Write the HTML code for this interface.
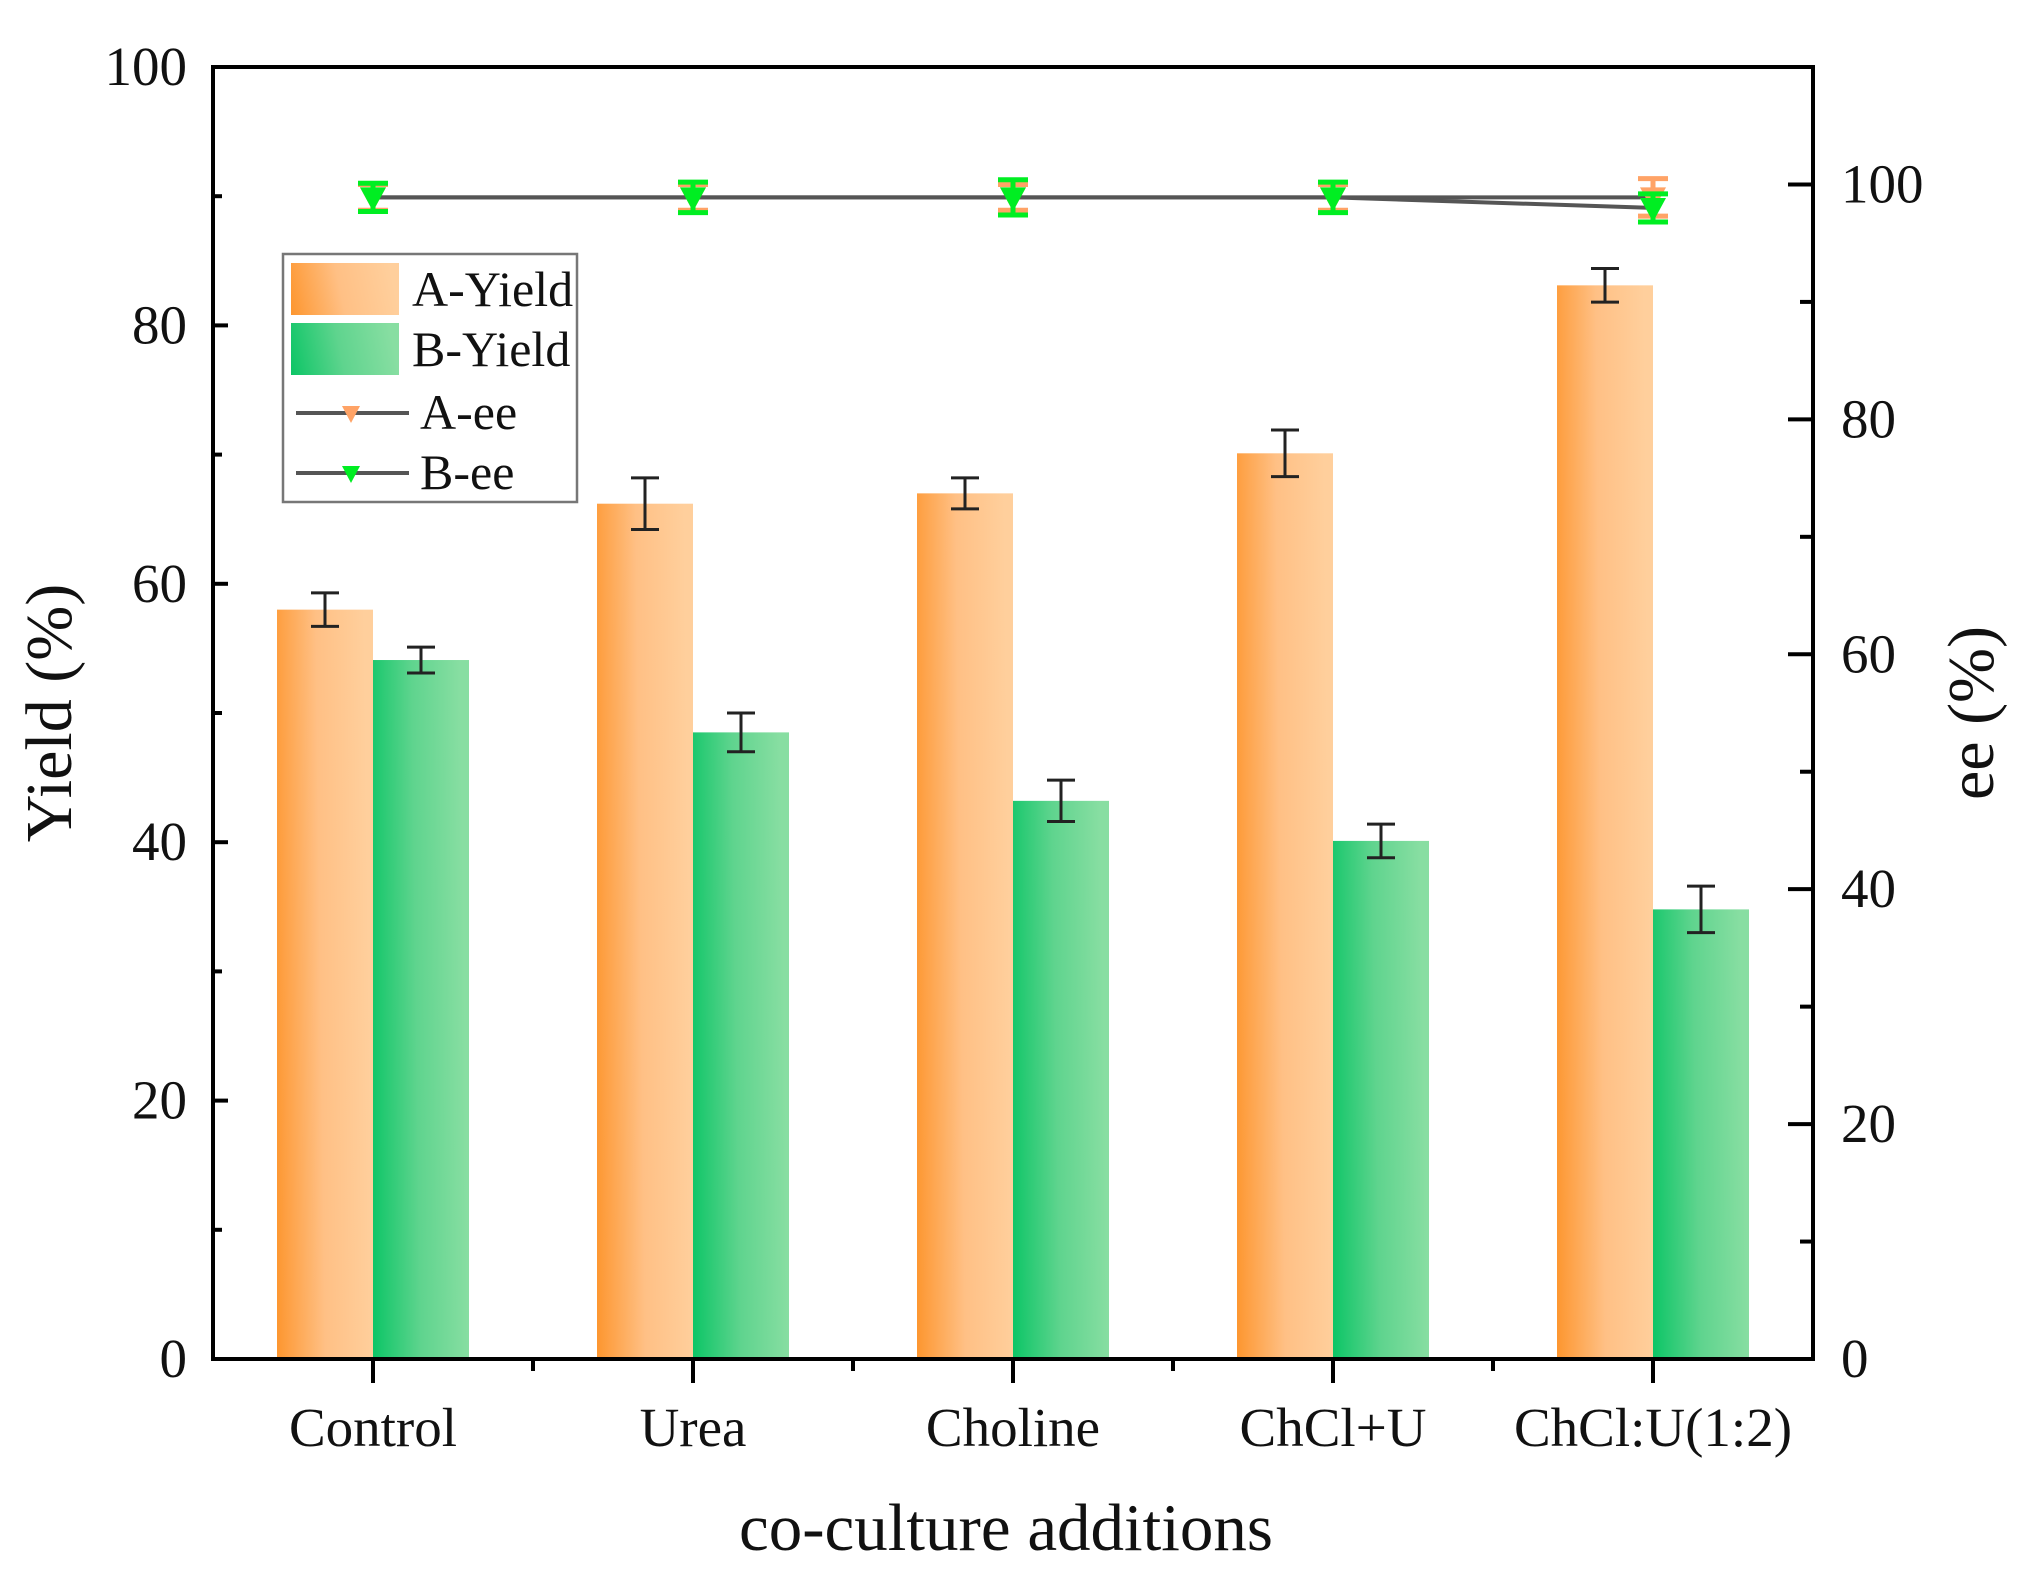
<!DOCTYPE html>
<html><head><meta charset="utf-8"><style>
html,body{margin:0;padding:0;background:#fff}
svg text{font-family:"Liberation Serif",serif;fill:#111}
</style></head><body>
<svg id="chart" width="2026" height="1571" viewBox="0 0 2026 1571" xmlns="http://www.w3.org/2000/svg">
<defs>
<linearGradient id="gA" x1="0" y1="1" x2="1" y2="0.9"><stop offset="0" stop-color="#fd962f"/><stop offset="0.5" stop-color="#ffc085"/><stop offset="1" stop-color="#ffcf9c"/></linearGradient>
<linearGradient id="gB" x1="0" y1="1" x2="1" y2="0.9"><stop offset="0" stop-color="#0cc566"/><stop offset="0.5" stop-color="#5fd48e"/><stop offset="1" stop-color="#88dea2"/></linearGradient>
</defs>
<g id="bars"></g>
<g id="lines"></g>
<g id="axes"></g>
<text x="56" y="713" font-size="66" text-anchor="middle" transform="rotate(-90 56 713)" dominant-baseline="middle">Yield (%)</text>
<text x="1978" y="713" font-size="66" text-anchor="middle" transform="rotate(-90 1978 713)" dominant-baseline="middle">ee (%)</text>
<text x="1006" y="1550" font-size="67" text-anchor="middle">co-culture additions</text>
<g>
<rect x="283" y="254" width="294" height="248" fill="#fff" stroke="#777" stroke-width="2.5"/>
<rect x="291" y="263" width="108" height="52" fill="url(#gA)"/>
<text x="412" y="306" font-size="50">A-Yield</text>
<rect x="291" y="323" width="108" height="52" fill="url(#gB)"/>
<text x="412" y="366" font-size="50">B-Yield</text>
<line x1="296" y1="413" x2="409" y2="413" stroke="#555" stroke-width="4"/>
<path d="M342,406 L360,406 L351,423 Z" fill="#ffa366"/>
<text x="420" y="429" font-size="50">A-ee</text>
<line x1="296" y1="473" x2="409" y2="473" stroke="#555" stroke-width="4"/>
<path d="M342,466 L360,466 L351,483 Z" fill="#00ee22"/>
<text x="420" y="489" font-size="50">B-ee</text>
</g>
</svg>
<script>
const categories = ["Control","Urea","Choline","ChCl+U","ChCl:U(1:2)"];
const aYield = [58.0, 66.2, 67.0, 70.1, 83.1];
const aYieldErr = [1.3, 2.0, 1.2, 1.8, 1.3];
const bYield = [54.1, 48.5, 43.2, 40.1, 34.8];
const bYieldErr = [1.0, 1.5, 1.6, 1.3, 1.8];
const aEe = [98.9, 98.9, 98.9, 98.9, 98.9];
const aEeErr = [1.1, 1.1, 1.1, 1.1, 1.6];
const bEe = [98.9, 98.9, 98.9, 98.9, 98.0];
const bEeErr = [1.2, 1.3, 1.5, 1.3, 1.2];
const yTicks = [0,20,40,60,80,100];
const y2Ticks = [0,20,40,60,80,100];

const NS="http://www.w3.org/2000/svg";
const L=213,R=1813,T=67,B=1359;
const yS=v=>B-(v/100)*(B-T);
const y2S=v=>B-(v/110)*(B-T);
const band=(R-L)/categories.length;
const xC=i=>L+band*(i+0.5);
const bw=96;
function mk(tag,attrs,parent){const e=document.createElementNS(NS,tag);for(const k in attrs)e.setAttribute(k,attrs[k]);parent.appendChild(e);return e;}
const gBars=document.getElementById('bars'),gLines=document.getElementById('lines'),gAx=document.getElementById('axes');
function errBar(x,v,e,sc,col,w,hw,par){
  const g=mk('g',{},par);
  mk('line',{x1:x,y1:sc(v-e),x2:x,y2:sc(v+e),stroke:col,'stroke-width':w},g);
  mk('line',{x1:x-hw,y1:sc(v-e),x2:x+hw,y2:sc(v-e),stroke:col,'stroke-width':w},g);
  mk('line',{x1:x-hw,y1:sc(v+e),x2:x+hw,y2:sc(v+e),stroke:col,'stroke-width':w},g);
  return g;
}
categories.forEach((c,i)=>{
  const cx=xC(i);
  const ra=mk('rect',{x:cx-bw,y:yS(aYield[i]),width:bw,height:B-yS(aYield[i]),fill:'url(#gA)'},gBars);
  
  
  const rb=mk('rect',{x:cx,y:yS(bYield[i]),width:bw,height:B-yS(bYield[i]),fill:'url(#gB)'},gBars);
  
  
  const ea=errBar(cx-bw/2,aYield[i],aYieldErr[i],yS,'#222',3,14,gBars);
  
  
  const eb=errBar(cx+bw/2,bYield[i],bYieldErr[i],yS,'#222',3,14,gBars);
  
  
});
function series(vals,errs,col,name){
  const pts=vals.map((v,i)=>xC(i)+','+y2S(v)).join(' ');
  const pl=mk('polyline',{points:pts,fill:'none',stroke:'#555','stroke-width':4},gLines);
  
  
  vals.forEach((v,i)=>{
    const x=xC(i),y=y2S(v);
    const e=errBar(x,v,errs[i],y2S,col,5,15,gLines);
    
    
    const m=mk('path',{d:`M${x-13},${y-10} L${x+13},${y-10} L${x},${y+14} Z`,fill:col},gLines);
    
    
  });
}
series(aEe,aEeErr,'#ffa366','a-ee');
series(bEe,bEeErr,'#00ee22','b-ee');
const fr=mk('rect',{x:L,y:T,width:R-L,height:B-T,fill:'none',stroke:'#000','stroke-width':4},gAx);


yTicks.forEach(v=>{
  const y=yS(v);
  mk('line',{x1:L,y1:y,x2:L+15,y2:y,stroke:'#000','stroke-width':4},gAx);
  const t=mk('text',{x:L-26,y:y+18,'font-size':55,'text-anchor':'end'},gAx);
  t.textContent=v;
  
  
  if(v<100){const ym=yS(v+10);mk('line',{x1:L,y1:ym,x2:L+9,y2:ym,stroke:'#000','stroke-width':4},gAx);}
});
y2Ticks.forEach(v=>{
  const y=y2S(v);
  mk('line',{x1:R,y1:y,x2:R-25,y2:y,stroke:'#000','stroke-width':4},gAx);
  const t=mk('text',{x:R+28,y:y+18,'font-size':55,'text-anchor':'start'},gAx);
  t.textContent=v;
  
  
  const ym=y2S(v+10);mk('line',{x1:R,y1:ym,x2:R-13,y2:ym,stroke:'#000','stroke-width':4},gAx);
});
categories.forEach((c,i)=>{
  const x=xC(i);
  mk('line',{x1:x,y1:B,x2:x,y2:B+24,stroke:'#000','stroke-width':4},gAx);
  const xb=L+band*(i+1);
  if(i<categories.length-1) mk('line',{x1:xb,y1:B,x2:xb,y2:B+12,stroke:'#000','stroke-width':4},gAx);
  const t=mk('text',{x:x,y:1446,'font-size':55,'text-anchor':'middle'},gAx);
  t.textContent=c;
  
  
});
</script>
</body></html>
